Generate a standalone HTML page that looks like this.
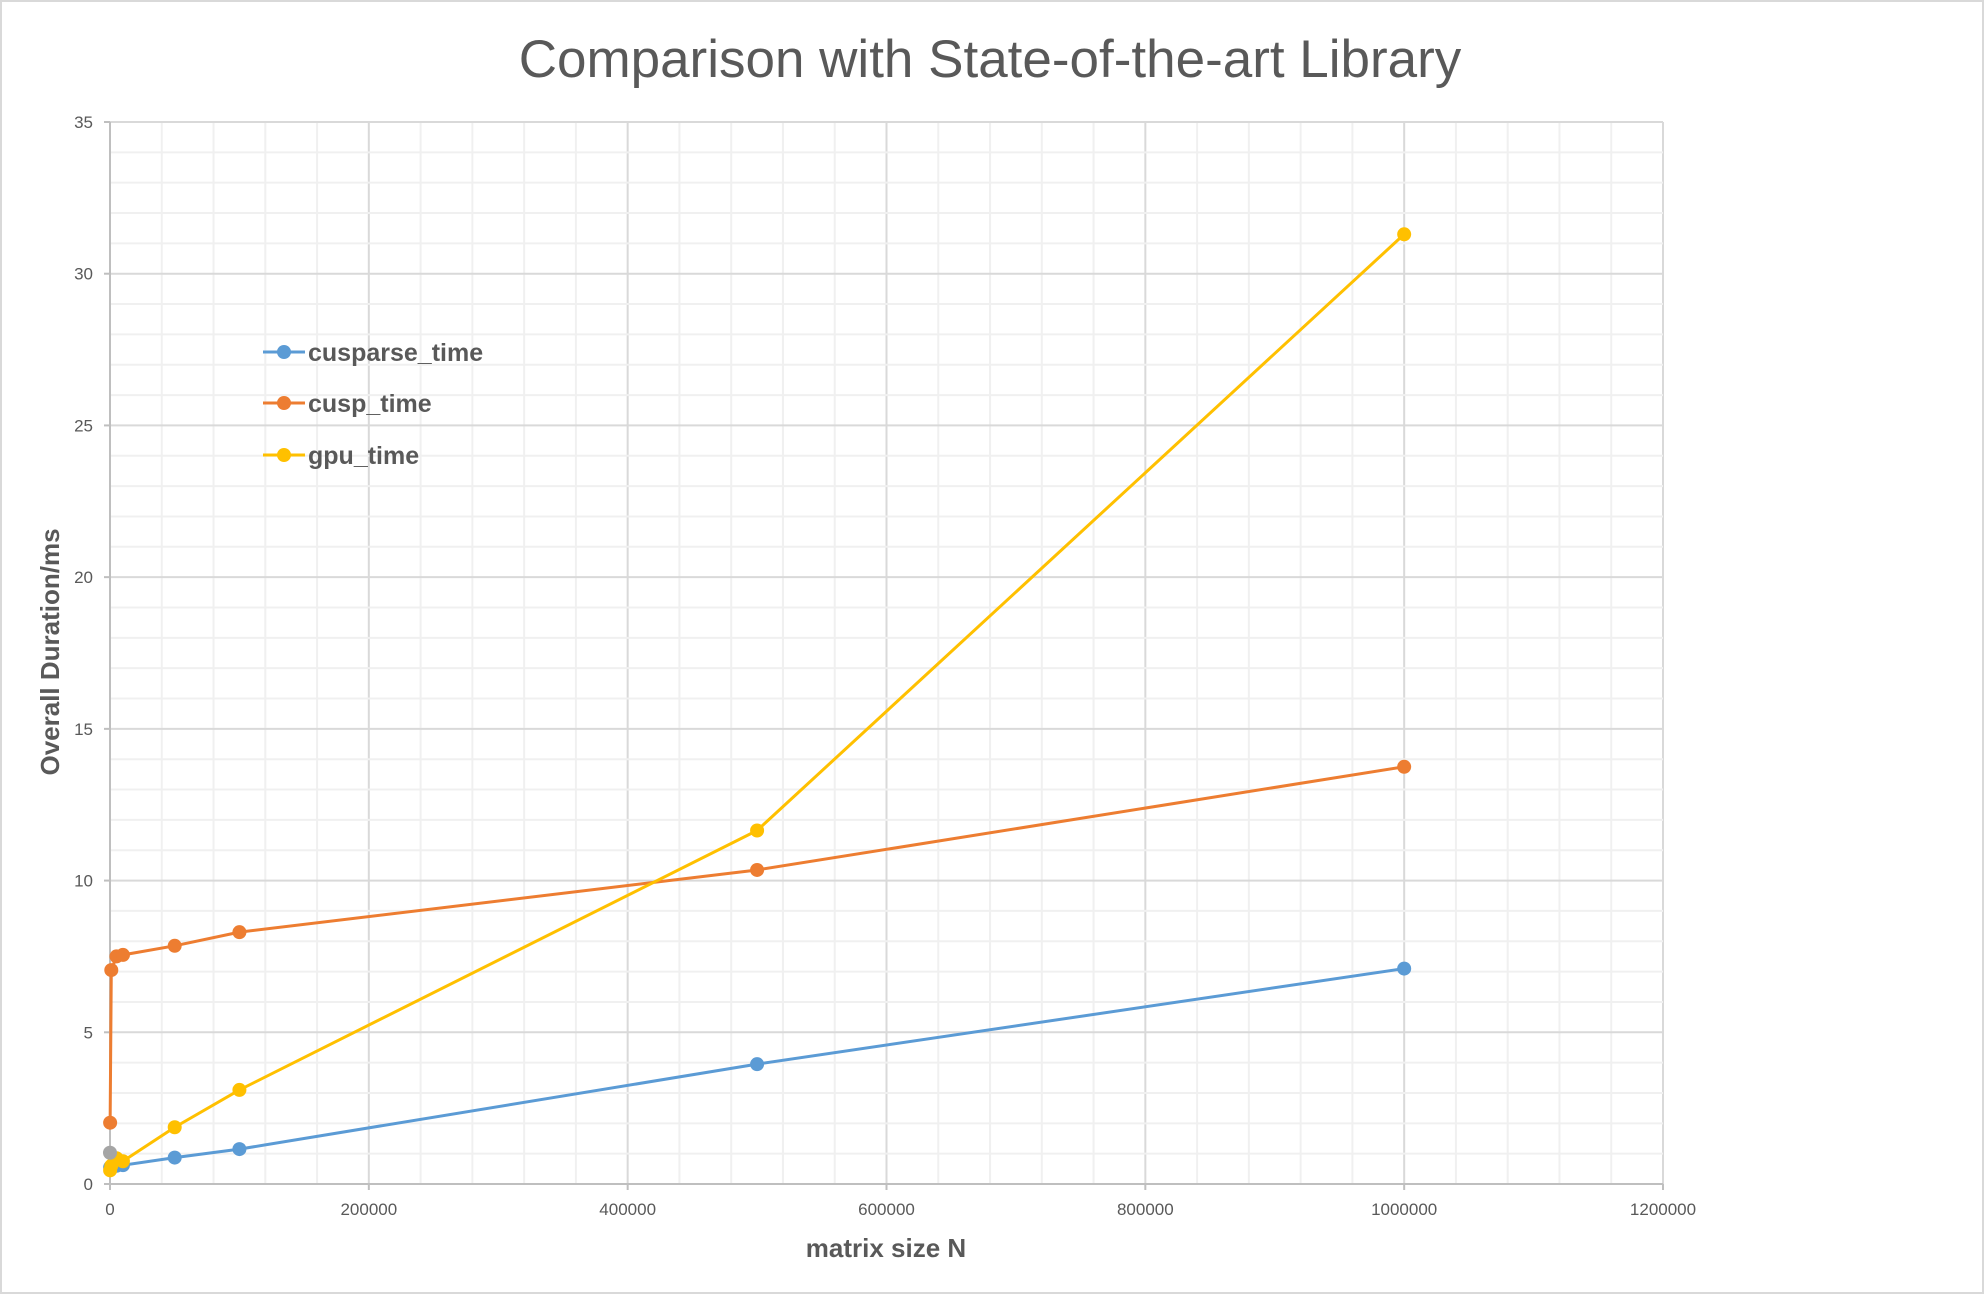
<!DOCTYPE html>
<html><head><meta charset="utf-8"><style>
html,body{margin:0;padding:0;background:#fff;}
svg{display:block;font-family:"Liberation Sans",sans-serif;}
</style></head><body>
<svg id="chart" width="1984" height="1294">
<rect x="1" y="1" width="1982" height="1292" fill="#fff" stroke="#d9d9d9" stroke-width="2"/>
<text x="990" y="77" text-anchor="middle" font-size="53" fill="#595959">Comparison with State-of-the-art Library</text>
<g id="grid"></g><g id="axes"></g><g id="series"></g>
<text x="886" y="1257" text-anchor="middle" font-size="26" font-weight="bold" fill="#595959">matrix size N</text>
<text transform="translate(59,652) rotate(-90)" text-anchor="middle" font-size="26" font-weight="bold" fill="#595959">Overall Duration/ms</text>
<g id="legend"></g>
</svg>
<script>
const xValues=[100,1000,5000,10000,50000,100000,500000,1000000];
const cusparseValues=[0.55,0.55,0.6,0.62,0.87,1.15,3.95,7.1];
const cuspValues=[2.02,7.05,7.5,7.55,7.85,8.3,10.35,13.75];
const gpuValues=[0.45,0.6,0.85,0.75,1.87,3.1,11.65,31.3];
const otherX=[0];
const otherValues=[1.03];
const xTicks=[0,200000,400000,600000,800000,1000000,1200000];
const yTicks=[0,5,10,15,20,25,30,35];
const seriesNames=["cusparse_time","cusp_time","gpu_time"];
const colors=["#5b9bd5","#ed7d31","#ffc000"];

const X0=110,X1=1663,Y0=1184,Y1=122,XMAX=1200000,YMAX=35;
const xs=v=>X0+(v/XMAX)*(X1-X0);
const ys=v=>Y0-(v/YMAX)*(Y0-Y1);
const NS="http://www.w3.org/2000/svg";
function mk(tag,attrs,parent){const e=document.createElementNS(NS,tag);for(const k in attrs)e.setAttribute(k,attrs[k]);parent.appendChild(e);return e;}
const grid=document.getElementById('grid'),axes=document.getElementById('axes'),ser=document.getElementById('series'),leg=document.getElementById('legend');
for(let v=0;v<=XMAX;v+=40000){const l=mk('line',{x1:xs(v),x2:xs(v),y1:Y1,y2:Y0,stroke:v%200000===0?'#d9d9d9':'#f0f0f0','stroke-width':2},grid);

}
for(let v=0;v<=YMAX;v+=1){const l=mk('line',{x1:X0,x2:X1,y1:ys(v),y2:ys(v),stroke:v%5===0?'#d9d9d9':'#f0f0f0','stroke-width':2},grid);

}
const ax=mk('line',{x1:X0,x2:X1,y1:Y0,y2:Y0,stroke:'#bfbfbf','stroke-width':2},axes);


const ay=mk('line',{x1:X0,x2:X0,y1:Y1,y2:Y0,stroke:'#bfbfbf','stroke-width':2},axes);


xTicks.forEach(v=>{mk('line',{x1:xs(v),x2:xs(v),y1:Y0,y2:Y0+6,stroke:'#bfbfbf','stroke-width':2},axes);
const t=mk('text',{x:xs(v),y:Y0+31,'text-anchor':'middle','font-size':17,fill:'#595959'},axes);t.textContent=v;

});
yTicks.forEach(v=>{mk('line',{x1:X0-6,x2:X0,y1:ys(v),y2:ys(v),stroke:'#bfbfbf','stroke-width':2},axes);
const t=mk('text',{x:X0-17,y:ys(v)+6,'text-anchor':'end','font-size':17,fill:'#595959'},axes);t.textContent=v;

});
const all=[cusparseValues,cuspValues,gpuValues];
all.forEach((vals,i)=>{
const g=mk('g',{},ser);


const pts=vals.map((v,j)=>xs(xValues[j])+','+ys(v)).join(' ');
mk('polyline',{points:pts,fill:'none',stroke:colors[i],'stroke-width':3,'stroke-linejoin':'round'},g);
vals.forEach((v,j)=>{const c=mk('circle',{cx:xs(xValues[j]),cy:ys(v),r:7,fill:colors[i]},g);

});
});
otherValues.forEach((v,j)=>{const c=mk('circle',{cx:xs(otherX[j]),cy:ys(v),r:7,fill:'#a5a5a5'},ser);

});
[352,403,455].forEach((y,i)=>{const g=mk('g',{},leg);


mk('line',{x1:263,x2:305,y1:y,y2:y,stroke:colors[i],'stroke-width':3},g);
mk('circle',{cx:284,cy:y,r:7,fill:colors[i]},g);
const t=mk('text',{x:308,y:y+9,'font-size':25,'font-weight':'bold',fill:'#595959'},g);t.textContent=seriesNames[i];});
</script>
</body></html>
